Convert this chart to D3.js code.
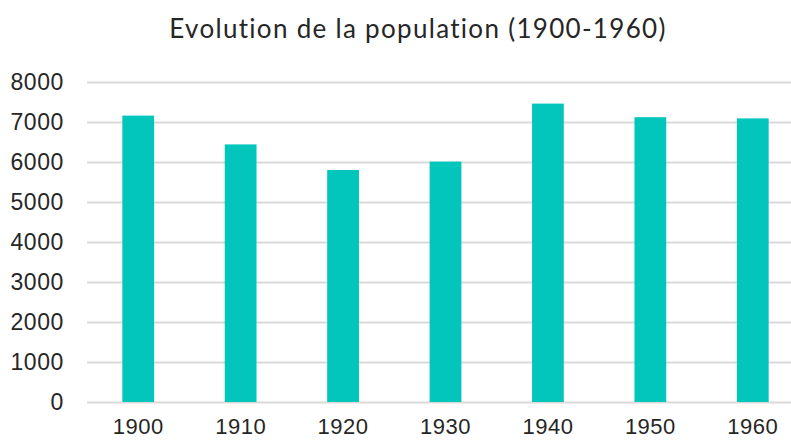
<!DOCTYPE html>
<head>
  <meta charset="utf-8">
  <title>Evolution de la population</title>
  <script src="https://d3js.org/d3.v7.min.js"></script>
  <style type="text/css">
    body { margin: 0; background: #fff; }
    svg { display: block; font-family: "Century Gothic", "URW Gothic", Lato, sans-serif; }
    .grid line { stroke: #d9d9d9; stroke-width: 2px; }
    .grid path { display: none; }
    .axis text { fill: #262626; }
    .axis path, .axis line { display: none; }
  </style>
</head>
<body>
  <div id="graph-container"></div>

<script>
// ============ data ============
const years = ["1900", "1910", "1920", "1930", "1940", "1950", "1960"];
const population = [7160, 6440, 5800, 6010, 7460, 7120, 7090];
const yTicks = [0, 1000, 2000, 3000, 4000, 5000, 6000, 7000, 8000];
const title = "Evolution de la population (1900-1960)";

// ============ chart prep ============
let width = 791,
    height = 441,
    margin = { top: 82, right: -13, bottom: 39, left: 87 };

let svg = d3.select("#graph-container").append("svg")
    .attr("width", width)
    .attr("height", height);

let x = d3.scaleBand()
    .domain(years)
    .range([margin.left, width - margin.right])
    .paddingInner(0.69)
    .paddingOuter(0.345);

let y = d3.scaleLinear()
    .domain([0, 8000])
    .range([height - margin.bottom, margin.top]);

// gridlines
svg.append("g")
    .attr("class", "grid")
    .attr("transform", "translate(" + margin.left + ",0)")
    .call(d3.axisLeft(y).tickValues(yTicks)
      .tickSize(-(width - margin.left - margin.right)).tickFormat(""));

// bars
svg.selectAll(".bar")
    .data(years)
  .enter().append("rect")
    .attr("class", "bar")
    .attr("x", d => x(d))
    .attr("width", x.bandwidth())
    .attr("y", (d, i) => y(population[i]))
    .attr("height", (d, i) => y(0) - y(population[i]))
    .attr("fill", "#02c5bb");

// y axis labels
svg.append("g")
    .attr("class", "axis")
    .attr("transform", "translate(64,0)")
    .call(d3.axisLeft(y).tickValues(yTicks).tickFormat(d3.format("d"))
      .tickSize(0).tickPadding(0))
    .selectAll("text")
    .attr("font-size", "23px")
    .attr("letter-spacing", "0.6px");

// x axis labels (pushed up a little so they stay inside the picture)
svg.append("g")
    .attr("class", "axis")
    .attr("transform", "translate(0," + (height - margin.bottom) + ")")
    .call(d3.axisBottom(x).tickSize(0).tickPadding(16))
    .selectAll("text")
    .attr("font-size", "22px")
    .attr("letter-spacing", "0.5px");

// title
svg.append("text")
    .attr("x", 418)
    .attr("y", 38)
    .attr("text-anchor", "middle")
    .attr("font-size", "26px")
    .attr("letter-spacing", "1.3px")
    .attr("fill", "#262626")
    .text(title);
</script>
</body>
